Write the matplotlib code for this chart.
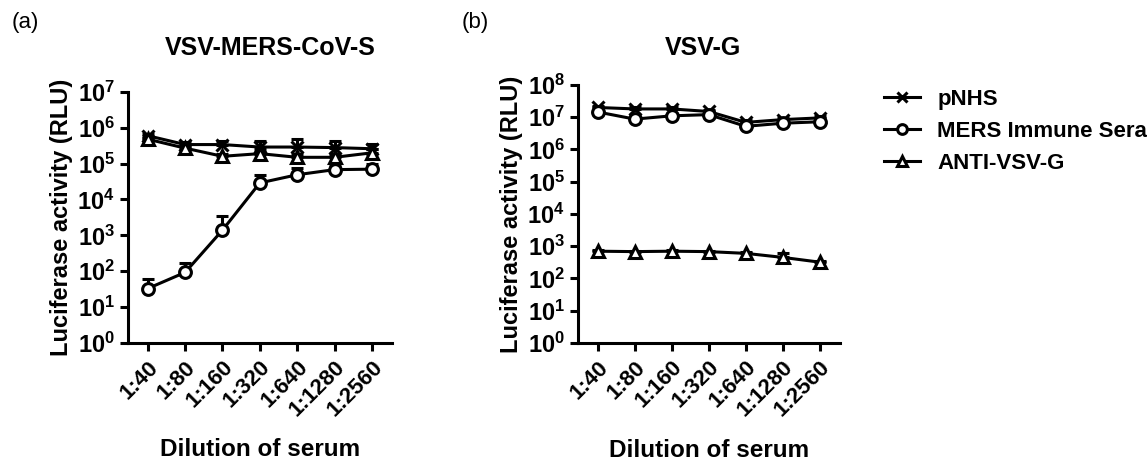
import numpy as np
import matplotlib
matplotlib.use('Agg')
import matplotlib.pyplot as plt
from matplotlib.lines import Line2D
from matplotlib.ticker import LogLocator, NullLocator, LogFormatterSciNotation

plt.rcParams['font.family'] = ['Liberation Sans', 'DejaVu Sans']
plt.rcParams['font.weight'] = 'bold'
plt.rcParams['mathtext.default'] = 'regular'
plt.rcParams['axes.linewidth'] = 2.2

# data
dilutions = ['1:40', '1:80', '1:160', '1:320', '1:640', '1:1280', '1:2560']

a_pnhs = [6.0e5, 3.4e5, 3.4e5, 2.9e5, 2.9e5, 2.8e5, 2.6e5]
a_pnhs_err = [0.8e5, 0.5e5, 0.9e5, 1.3e5, 2.0e5, 1.6e5, 0.9e5]
a_mers = [33, 93, 1400, 2.9e4, 4.9e4, 6.8e4, 7.0e4]
a_mers_err = [27, 80, 2000, 2.0e4, 2.7e4, 2.5e4, 3.0e4]
a_anti = [4.8e5, 2.7e5, 1.6e5, 1.9e5, 1.5e5, 1.5e5, 2.0e5]
a_anti_err = [0.5e5, 0.4e5, 0.3e5, 0.5e5, 0.4e5, 0.4e5, 0.5e5]

b_pnhs = [2.0e7, 1.8e7, 1.8e7, 1.5e7, 6.9e6, 8.4e6, 9.5e6]
b_pnhs_err = [2e6, 3e6, 2e6, 2e6, 1e6, 1e6, 1e6]
b_mers = [1.45e7, 8.7e6, 1.1e7, 1.2e7, 5.2e6, 6.5e6, 7.2e6]
b_mers_err = [1e6, 1e6, 1e6, 1e6, 5e5, 5e5, 5e5]
b_anti = [700, 680, 700, 680, 600, 450, 320]
b_anti_err = [40, 40, 40, 40, 40, 150, 30]

series_names = ['pNHS', 'MERS Immune Sera', 'ANTI-VSV-G']
markers = ['x', 'o', '^']

fig = plt.figure(figsize=(11.48, 4.65), dpi=100)
ax1 = fig.add_axes([0.1115, 0.2624, 0.230, 0.540])
ax2 = fig.add_axes([0.5035, 0.2624, 0.228, 0.555])

x = np.arange(len(dilutions))


def draw(ax, ys, errs, top, label_y):
    for y, e, m in zip(ys, errs, markers):
        ax.errorbar(x, y, yerr=[np.zeros(len(y)), e], color='black', lw=2.2,
                    marker=m, ms=8.5, mfc='white', mec='black',
                    mew=2.2, capsize=4, capthick=2.2, elinewidth=2.2)
    ax.set_yscale('log')
    ax.set_ylim(1, 10 ** top)
    ax.set_xlim(-0.53, 6.54)
    ax.yaxis.set_major_locator(LogLocator(base=10, numticks=20))
    ax.yaxis.set_minor_locator(NullLocator())
    ax.yaxis.set_major_formatter(LogFormatterSciNotation())
    ax.set_xticks(x)
    ax.set_xticklabels(dilutions, rotation=45, ha='right', rotation_mode='anchor')
    ax.tick_params(width=2.2, length=6, labelsize=17)
    ax.tick_params(axis='x', labelsize=16, pad=4)
    ax.spines['top'].set_visible(False)
    ax.spines['right'].set_visible(False)
    ax.set_ylabel('Luciferase activity (RLU)', fontsize=17, fontweight='bold', labelpad=3)
    ax.set_xlabel('Dilution of serum', fontsize=17.5, fontweight='bold', va='center')
    ax.xaxis.set_label_coords(0.5, label_y)


draw(ax1, [a_pnhs, a_mers, a_anti], [a_pnhs_err, a_mers_err, a_anti_err], 7, -0.426)
draw(ax2, [b_pnhs, b_mers, b_anti], [b_pnhs_err, b_mers_err, b_anti_err], 8, -0.415)

fig.text(0.235, 0.897, 'VSV-MERS-CoV-S', ha='center', va='center', fontsize=18, fontweight='bold')
fig.text(0.612, 0.897, 'VSV-G', ha='center', va='center', fontsize=18, fontweight='bold')
fig.text(0.022, 0.952, '(a)', ha='center', va='center', fontsize=16, fontweight='normal')
fig.text(0.414, 0.952, '(b)', ha='center', va='center', fontsize=16, fontweight='normal')

handles = [Line2D([], [], color='black', lw=2.2, marker=m, ms=7, mfc='white', mec='black', mew=2.2)
           for m in markers]
fig.legend(handles, series_names, loc='upper left', bbox_to_anchor=(0.770, 0.809),
           frameon=False, fontsize=16, handlelength=1.6, handletextpad=0.8,
           labelspacing=0.5, borderaxespad=0, borderpad=0)

fig.savefig('out.png', dpi=100)
